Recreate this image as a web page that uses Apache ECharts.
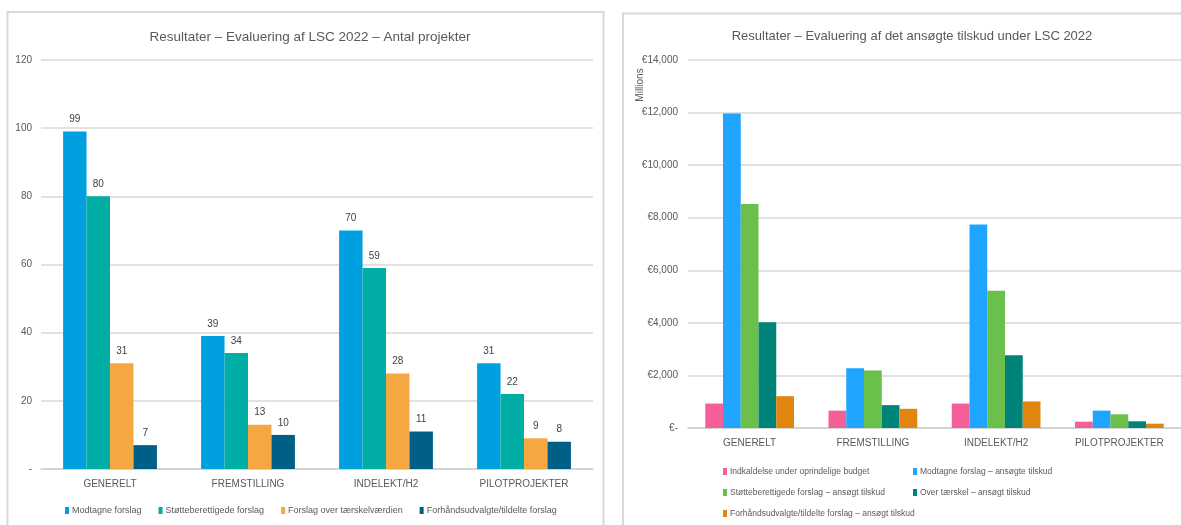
<!DOCTYPE html>
<html>
<head>
<meta charset="utf-8">
<script src="https://cdn.jsdelivr.net/npm/echarts@6/dist/echarts.min.js"></script>
<style>
  html, body { margin: 0; padding: 0; background: #fff; }
  #chart { width: 1181px; height: 525px; }
</style>
</head>
<body>
<div id="chart"></div>
<script>
// kategorier (fælles for begge diagrammer)
const categories = ['GENERELT', 'FREMSTILLING', 'INDELEKT/H2', 'PILOTPROJEKTER']

// venstre: antal projekter
const modtagne = [99, 39, 70, 31]
const stoetteberettigede = [80, 34, 59, 22]
const overTaerskel = [31, 13, 28, 9]
const forhaandsudvalgte = [7, 10, 11, 8]

// højre: ansøgt tilskud (mio. EUR)
const indkaldelseBudget = [930, 660, 930, 240]
const modtagneTilskud = [11960, 2270, 7740, 660]
const stoetteTilskud = [8520, 2190, 5220, 520]
const overTaerskelTilskud = [4020, 870, 2770, 255]
const forhaandTilskud = [1210, 730, 1010, 165]

const leftNames = ['Modtagne forslag', 'Støtteberettigede forslag', 'Forslag over tærskelværdien', 'Forhåndsudvalgte/tildelte forslag']
const rightNames = ['Indkaldelse under oprindelige budget', 'Modtagne forslag – ansøgte tilskud',
  'Støtteberettigede forslag – ansøgt tilskud', 'Over tærskel – ansøgt tilskud',
  'Forhåndsudvalgte/tildelte forslag – ansøgt tilskud']

const leftColors = ['#00a0e0', '#00aea5', '#f5a742', '#005f87']
const rightColors = ['#f55f99', '#1fa5ff', '#6bbf4b', '#00847a', '#e0860f']

const font = "'Liberation Sans', Arial, sans-serif"
const grey = '#595959'

const chart = echarts.init(document.getElementById('chart'))

function leftBar (i, data) {
  return {
    name: leftNames[i],
    type: 'bar',
    xAxisIndex: 0,
    yAxisIndex: 0,
    data: data,
    barGap: '0%',
    barCategoryGap: '32%',
    itemStyle: { color: leftColors[i] },
    label: { show: true, position: 'top', distance: 7, color: '#404040', fontSize: 10, fontFamily: font },
    animation: false
  }
}

function rightBar (i, data) {
  return {
    name: rightNames[i],
    type: 'bar',
    xAxisIndex: 1,
    yAxisIndex: 1,
    data: data,
    barGap: '0%',
    barCategoryGap: '28%',
    itemStyle: { color: rightColors[i] },
    animation: false
  }
}

const axisLabel = { color: grey, fontSize: 10, fontFamily: font }

chart.setOption({
  textStyle: { fontFamily: font },
  title: [{
    text: 'Resultater – Evaluering af LSC 2022 – Antal projekter',
    left: 305,
    top: 25,
    textAlign: 'center',
    textStyle: { color: grey, fontSize: 13.5, fontWeight: 'normal', fontFamily: font }
  }, {
    text: 'Resultater – Evaluering af det ansøgte tilskud under LSC 2022',
    left: 907,
    top: 25,
    textAlign: 'center',
    textStyle: { color: grey, fontSize: 13, fontWeight: 'normal', fontFamily: font }
  }],
  legend: [{
    data: leftNames,
    left: 60,
    top: 501,
    itemWidth: 4,
    itemHeight: 7,
    itemGap: 17,
    icon: 'rect',
    textStyle: { color: grey, fontSize: 9, fontFamily: font, padding: [0, 0, 0, -2] }
  }, {
    data: [rightNames[0], rightNames[2], rightNames[4]],
    orient: 'vertical',
    left: 718,
    top: 462,
    itemWidth: 4,
    itemHeight: 7,
    itemGap: 12,
    icon: 'rect',
    textStyle: { color: grey, fontSize: 8.5, fontFamily: font, padding: [0, 0, 0, -2] }
  }, {
    data: [rightNames[1], rightNames[3]],
    orient: 'vertical',
    left: 908,
    top: 462,
    itemWidth: 4,
    itemHeight: 7,
    itemGap: 12,
    icon: 'rect',
    textStyle: { color: grey, fontSize: 8.5, fontFamily: font, padding: [0, 0, 0, -2] }
  }],
  grid: [
    { left: 41, right: 588, top: 60, bottom: 56 },
    { left: 688, right: 0, top: 60, bottom: 97 }
  ],
  xAxis: [{
    type: 'category',
    gridIndex: 0,
    data: categories,
    axisTick: { show: false },
    axisLine: { lineStyle: { color: '#d0d0d0', width: 1.5 } },
    axisLabel: Object.assign({ margin: 10 }, axisLabel)
  }, {
    type: 'category',
    gridIndex: 1,
    data: categories,
    axisTick: { show: false },
    axisLine: { lineStyle: { color: '#d0d0d0', width: 1.5 } },
    axisLabel: Object.assign({ margin: 10 }, axisLabel)
  }],
  yAxis: [{
    type: 'value',
    gridIndex: 0,
    min: 0,
    max: 120,
    interval: 20,
    axisLine: { show: false },
    axisTick: { show: false },
    splitLine: { lineStyle: { color: '#d9d9d9', width: 1.5 } },
    axisLabel: Object.assign({
      margin: 9,
      formatter: function (v) { return v === 0 ? '-' : v }
    }, axisLabel)
  }, {
    type: 'value',
    gridIndex: 1,
    min: 0,
    max: 14000,
    interval: 2000,
    axisLine: { show: false },
    axisTick: { show: false },
    splitLine: { lineStyle: { color: '#d9d9d9', width: 1.5 } },
    axisLabel: Object.assign({
      margin: 10,
      formatter: function (v) { return v === 0 ? '€-' : '€' + v.toLocaleString('en-US') }
    }, axisLabel)
  }],
  graphic: [{
    type: 'rect',
    shape: { x: 7.5, y: 12, width: 596, height: 530 },
    style: { fill: 'none', stroke: '#d9d9d9', lineWidth: 2 },
    silent: true
  }, {
    type: 'rect',
    shape: { x: 623, y: 13.5, width: 600, height: 530 },
    style: { fill: 'none', stroke: '#d9d9d9', lineWidth: 2 },
    silent: true
  }, {
    type: 'text',
    x: 640,
    y: 85,
    rotation: Math.PI / 2,
    style: { text: 'Millions', fill: grey, fontSize: 10, fontFamily: font, align: 'center', verticalAlign: 'middle' },
    silent: true
  }],
  series: [
    leftBar(0, modtagne),
    leftBar(1, stoetteberettigede),
    leftBar(2, overTaerskel),
    leftBar(3, forhaandsudvalgte),
    rightBar(0, indkaldelseBudget),
    rightBar(1, modtagneTilskud),
    rightBar(2, stoetteTilskud),
    rightBar(3, overTaerskelTilskud),
    rightBar(4, forhaandTilskud)
  ]
})
</script>
</body>
</html>
